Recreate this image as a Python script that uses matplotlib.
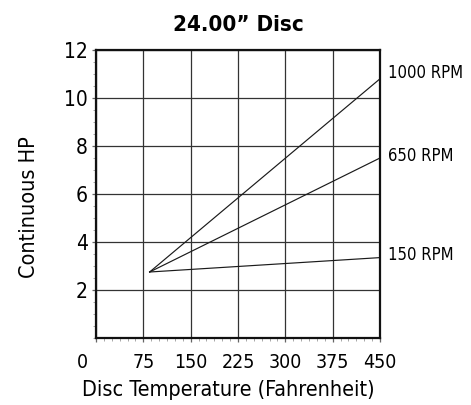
import matplotlib
matplotlib.use("Agg")
import matplotlib.pyplot as plt
from matplotlib.ticker import MultipleLocator
from matplotlib.transforms import ScaledTranslation

plt.rcParams["font.family"] = ["DejaVu Sans"]
plt.rcParams["font.stretch"] = "condensed"

# data
temp_f = [85, 450]
rpm_labels = ["1000 RPM", "650 RPM", "150 RPM"]
hp_1000 = [2.75, 10.8]
hp_650 = [2.75, 7.5]
hp_150 = [2.75, 3.35]
label_y = [11.05, 7.6, 3.45]
x_ticks = [0, 75, 150, 225, 300, 375, 450]
y_ticks = [2, 4, 6, 8, 10, 12]

fig = plt.figure(figsize=(4.71, 4.05), dpi=100)
ax = fig.add_axes([96 / 471, 1 - 338 / 405, (380 - 96) / 471, (338 - 50) / 405])

for hp, lab, ly in zip([hp_1000, hp_650, hp_150], rpm_labels, label_y):
    ax.plot(temp_f, hp, color="#1a1a1a", lw=0.85)
    ax.text(462, ly, lab, fontsize=12, va="center", ha="left")

ax.set_xlim(0, 450)
ax.set_ylim(0, 12)
ax.set_xticks(x_ticks)
ax.set_yticks(y_ticks)
ax.xaxis.set_minor_locator(MultipleLocator(12.5))
ax.yaxis.set_minor_locator(MultipleLocator(0.5))
ax.tick_params(axis="both", which="major", length=3, width=0.9, color="#666666", direction="out")
ax.tick_params(axis="x", which="major", labelsize=14, pad=8)
ax.tick_params(axis="y", which="major", labelsize=15, pad=3)
ax.tick_params(axis="both", which="minor", length=2, width=0.6, color="#999999", direction="out")
ax.grid(True, which="major", color="#333333", lw=0.9)
for s in ax.spines.values():
    s.set_linewidth(1.6)
    s.set_color("#111111")

# the "0" label sits left of the axis origin in the reference
zero = ax.get_xticklabels()[0]
zero.set_transform(zero.get_transform() + ScaledTranslation(-14 / 100, 0, fig.dpi_scale_trans))

ax.set_title("24.00\u201d Disc", fontsize=16, fontweight="bold", pad=14)
ax.set_xlabel("Disc Temperature (Fahrenheit)", fontsize=15.5)
ax.xaxis.set_label_coords((228 - 96) / 284, -0.145)
ax.set_ylabel("Continuous HP", fontsize=15.5)
ax.yaxis.set_label_coords(-0.2, (338 - 207) / 288)

fig.savefig("out.png", dpi=100)
